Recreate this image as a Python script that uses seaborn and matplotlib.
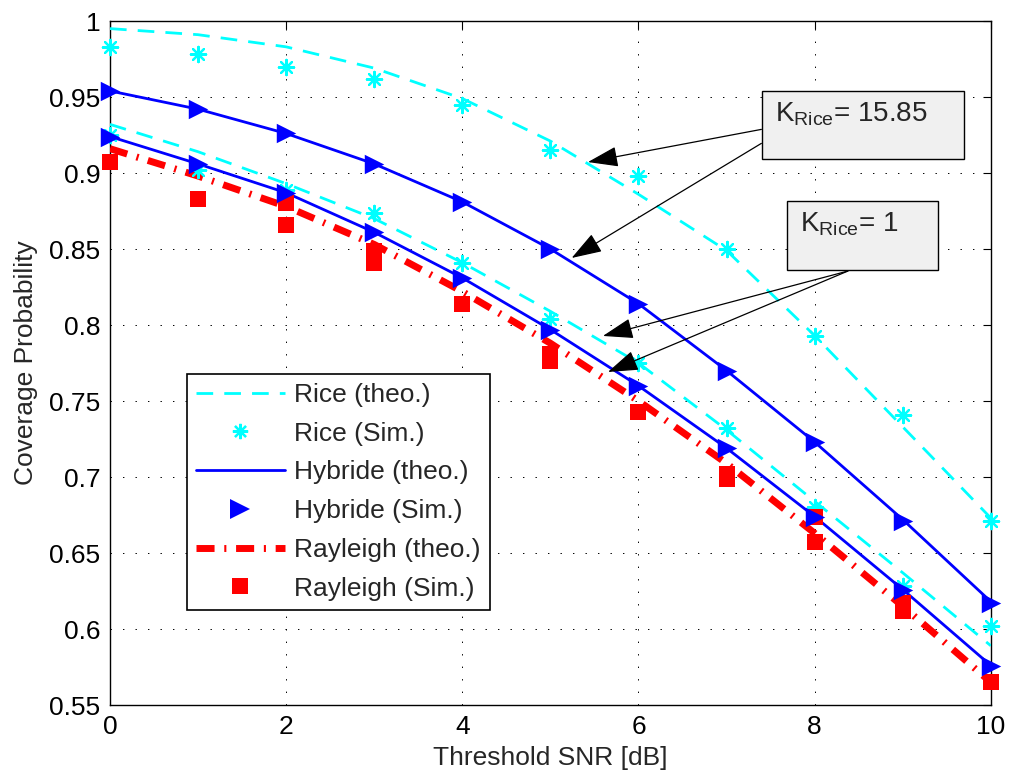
import matplotlib
matplotlib.use("Agg")
import matplotlib.pyplot as plt
from matplotlib.lines import Line2D
from matplotlib.patches import Rectangle
import seaborn as sns
import numpy as np

# ---------------- data ----------------
snr_db = [0, 1, 2, 3, 4, 5, 6, 7, 8, 9, 10]

rice_theo_k15 = [0.995, 0.991, 0.983, 0.969, 0.949, 0.921, 0.886, 0.849, 0.793, 0.733, 0.673]
rice_sim_k15 = [0.983, 0.978, 0.970, 0.962, 0.945, 0.915, 0.898, 0.850, 0.793, 0.741, 0.671]
rice_theo_k1 = [0.932, 0.914, 0.893, 0.870, 0.841, 0.809, 0.775, 0.731, 0.684, 0.637, 0.589]
rice_sim_k1 = [0.925, 0.902, 0.889, 0.874, 0.841, 0.804, 0.775, 0.732, 0.680, 0.628, 0.602]

hybrid_theo_k15 = [0.954, 0.942, 0.926, 0.906, 0.881, 0.850, 0.814, 0.770, 0.723, 0.672, 0.618]
hybrid_sim_k15 = [0.954, 0.942, 0.926, 0.906, 0.881, 0.850, 0.814, 0.770, 0.723, 0.671, 0.617]
hybrid_theo_k1 = [0.924, 0.906, 0.887, 0.861, 0.831, 0.797, 0.760, 0.719, 0.674, 0.626, 0.576]
hybrid_sim_k1 = [0.924, 0.906, 0.887, 0.861, 0.831, 0.797, 0.760, 0.719, 0.674, 0.626, 0.576]

rayleigh_theo = [0.916, 0.898, 0.878, 0.853, 0.822, 0.788, 0.750, 0.709, 0.663, 0.615, 0.565]
rayleigh_sim_x = [0, 1, 2, 2, 3, 3, 4, 5, 5, 6, 7, 7, 8, 8, 9, 9, 10]
rayleigh_sim_y = [0.907, 0.883, 0.880, 0.866, 0.849, 0.841, 0.814, 0.781, 0.776, 0.743,
                  0.702, 0.699, 0.674, 0.657, 0.617, 0.612, 0.565]

legend_labels = ["Rice (theo.)", "Rice (Sim.)", "Hybride (theo.)", "Hybride (Sim.)",
                 "Rayleigh (theo.)", "Rayleigh (Sim.)"]
annot_texts = [r"K$_{\mathrm{Rice}}$= 15.85", r"K$_{\mathrm{Rice}}$= 1"]
xticks = [0, 2, 4, 6, 8, 10]
yticks = [0.55, 0.6, 0.65, 0.7, 0.75, 0.8, 0.85, 0.9, 0.95, 1.0]
ytick_labels = ["0.55", "0.6", "0.65", "0.7", "0.75", "0.8", "0.85", "0.9", "0.95", "1"]

# ---------------- style ----------------
sns.set_style("white")
plt.rcParams["font.family"] = ["Liberation Sans", "DejaVu Sans"]
plt.rcParams["mathtext.fontset"] = "custom"
plt.rcParams["mathtext.rm"] = "Liberation Sans"
plt.rcParams["mathtext.it"] = "Liberation Sans:italic"
plt.rcParams["mathtext.bf"] = "Liberation Sans:bold"
plt.rcParams["lines.scale_dashes"] = False

FS = 19
CYAN = "#00ffff"
BLUE = "#0000ff"
RED = "#ff0000"

fig = plt.figure(figsize=(10.09, 7.78), dpi=100)
ax = fig.add_axes([0.109, 0.0938, 0.873, 0.8792])

rice_ls = (0, (12, 8))
ray_ls = (0, (13, 7, 1.5, 7))
asterisk = (8, 2, 0)

# theoretical curves
for ys in (rice_theo_k15, rice_theo_k1):
    sns.lineplot(x=snr_db, y=ys, ax=ax, color=CYAN, linewidth=2.0, linestyle=rice_ls,
                 estimator=None, legend=False, zorder=3)
for ys in (hybrid_theo_k15, hybrid_theo_k1):
    sns.lineplot(x=snr_db, y=ys, ax=ax, color=BLUE, linewidth=2.0, linestyle="-",
                 estimator=None, legend=False, zorder=3)
sns.lineplot(x=snr_db, y=rayleigh_theo, ax=ax, color=RED, linewidth=5.0, linestyle=ray_ls,
             estimator=None, legend=False, zorder=3)

# simulated points
for ys in (rice_sim_k15, rice_sim_k1):
    sns.scatterplot(x=snr_db, y=ys, ax=ax, marker=asterisk, s=11 ** 2, color=CYAN,
                    edgecolor=CYAN, linewidth=1.6, legend=False, zorder=4, clip_on=False)
for ys in (hybrid_sim_k15, hybrid_sim_k1):
    sns.scatterplot(x=snr_db, y=ys, ax=ax, marker=">", s=14 ** 2, color=BLUE,
                    edgecolor=BLUE, linewidth=0, legend=False, zorder=5, clip_on=False)
sns.scatterplot(x=rayleigh_sim_x, y=rayleigh_sim_y, ax=ax, marker="s", s=11 ** 2, color=RED,
                edgecolor=RED, linewidth=0, legend=False, zorder=4, clip_on=False)

# axes
ax.set_xlim(0, 10)
ax.set_ylim(0.55, 1.0)
ax.set_xticks(xticks)
ax.set_xticklabels([str(t) for t in xticks])
ax.set_yticks(yticks)
ax.set_yticklabels(ytick_labels)
ax.tick_params(direction="in", length=6, width=0.8, top=True, right=True,
               labelsize=FS, colors="black", pad=7)
ax.grid(True, color="black", linestyle=(0, (1, 8)), linewidth=0.7)
ax.set_axisbelow(True)
for sp in ax.spines.values():
    sp.set_color("black")
    sp.set_linewidth(1.0)
ax.set_xlabel("Threshold SNR [dB]", fontsize=FS, labelpad=5)
ax.set_ylabel("Coverage Probability", fontsize=FS, labelpad=8)

# legend
handles = [
    Line2D([], [], color=CYAN, linewidth=2.0, linestyle=rice_ls),
    Line2D([], [], color=CYAN, marker=asterisk, markersize=11, markeredgewidth=1.6, linestyle="none"),
    Line2D([], [], color=BLUE, linewidth=2.0, linestyle="-"),
    Line2D([], [], color=BLUE, marker=">", markersize=14, markeredgewidth=0, linestyle="none"),
    Line2D([], [], color=RED, linewidth=5.0, linestyle=ray_ls),
    Line2D([], [], color=RED, marker="s", markersize=11, markeredgewidth=0, linestyle="none"),
]
leg = ax.legend(handles, legend_labels, loc="lower left", bbox_to_anchor=(0.0874, 0.139),
                borderaxespad=0, fontsize=FS, frameon=True, fancybox=False, framealpha=1,
                edgecolor="black", handlelength=3.35, handletextpad=0.35, labelspacing=0.56,
                borderpad=0.35)
leg.get_frame().set_linewidth(1.2)
leg.set_zorder(10)

# annotation boxes
boxes = [(7.40, 0.9092, 9.69 - 7.40, 0.9539 - 0.9092),
         (7.684, 0.8362, 9.40 - 7.684, 0.8816 - 0.8362)]
for (bx, by, bw, bh) in boxes:
    ax.add_patch(Rectangle((bx, by), bw, bh, facecolor="#f0f0f0", edgecolor="black",
                           linewidth=1.0, zorder=8))
ax.text(7.55, 0.9342, annot_texts[0], fontsize=20, va="baseline", ha="left", zorder=9)
ax.text(7.83, 0.8612, annot_texts[1], fontsize=20, va="baseline", ha="left", zorder=9)

arrows = [((7.395, 0.9287), (5.426, 0.9072)),
          ((7.395, 0.9195), (5.241, 0.8441)),
          ((8.377, 0.8355), (5.596, 0.7928)),
          ((8.377, 0.8355), (5.653, 0.7691))]
for start, tip in arrows:
    ax.annotate("", xy=tip, xytext=start,
                arrowprops=dict(arrowstyle="-|>,head_length=0.95,head_width=0.32",
                                color="black", lw=0.9, mutation_scale=20,
                                shrinkA=0, shrinkB=0), zorder=7)

fig.savefig("out.png", dpi=100)
